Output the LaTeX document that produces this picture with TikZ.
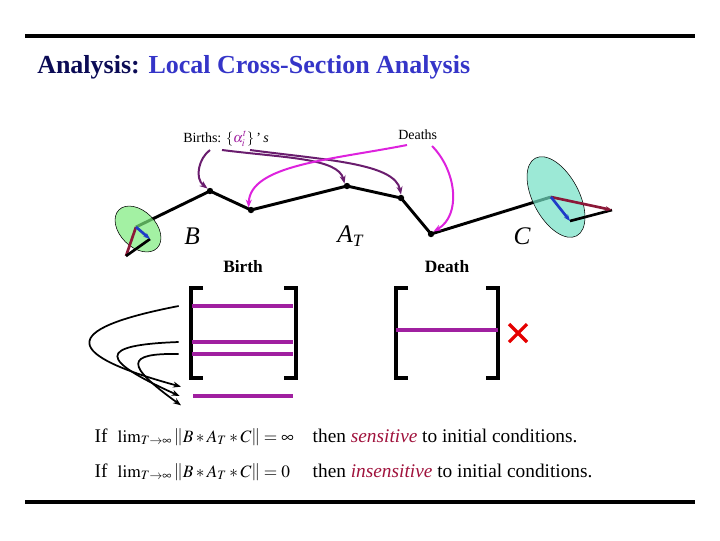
\documentclass[tikz,border=0pt]{standalone}
\usepackage{mathptmx}
\usepackage{fontspec}
\setmainfont{Liberation Serif}
\usepackage{xcolor}
\usepackage{tikz}
\usetikzlibrary{arrows.meta}
\definecolor{navy}{HTML}{0B0B55}
\definecolor{titleblue}{HTML}{3535C8}
\definecolor{birthpurple}{HTML}{6A1D6E}
\definecolor{deathpink}{HTML}{DD22DD}
\definecolor{rowpurple}{HTML}{A020A0}
\definecolor{maroon}{HTML}{8B1838}
\definecolor{vecblue}{HTML}{1E3CC8}
\definecolor{lightgreen}{HTML}{7CEB7C}
\definecolor{aqua}{HTML}{72E0C4}
\definecolor{sensred}{HTML}{A0123C}

\begin{document}
\begin{tikzpicture}[x=0.75pt, y=-0.75pt,
  bar/.style={line width=3pt},
  orbit/.style={line width=2.2pt},
  pt/.style={circle, fill=black, inner sep=1.7pt},
  birtharrow/.style={-{Stealth[length=6pt]}, line width=1.5pt, birthpurple},
  deatharrow/.style={-{Stealth[length=6pt]}, line width=1.5pt, deathpink},
  redvec/.style={line width=2pt, maroon},
  bluevec/.style={-{Stealth[length=5pt]}, line width=2pt, vecblue},
  bracket/.style={line width=2.4pt},
  row/.style={line width=2.4pt, rowpurple},
  swap/.style={-{Stealth[length=6pt]}, line width=1.3pt},
  label/.style={font=\fontsize{19}{19}\selectfont\itshape},
  head/.style={font=\fontsize{13}{13}\selectfont\bfseries},
  line/.style={anchor=base west, font=\fontsize{14.5}{15}\selectfont},
  formula/.style={anchor=base west, font=\fontsize{13}{14}\selectfont}
]
\useasboundingbox (0,0) rectangle (720,540);

% frame bars and title
\draw[bar] (25,36) -- (695,36);
\draw[bar] (25,502) -- (695,502);
\node[anchor=base west, inner sep=0pt, font=\fontsize{19.5}{20}\selectfont\bfseries] (title) at (37,73)
  {\textcolor{navy}{Analysis:} \textcolor{titleblue}{Local Cross-Section Analysis}};

% trajectory
\coordinate (b0) at (136,227);
\node[pt] (p1) at (210,191) {};
\node[pt] (p2) at (251,210) {};
\node[pt] (p3) at (347,186) {};
\node[pt] (p4) at (401,198) {};
\node[pt] (p5) at (431,234) {};
\coordinate (c0) at (551,197);
\draw[orbit] (b0) -- (p1.center) -- (p2.center) -- (p3.center) -- (p4.center) -- (p5.center) -- (c0);

% tangent ellipses
\draw[fill=lightgreen, fill opacity=0.7, shift={(138,229)}, rotate=-45] (0,0) ellipse [x radius=27, y radius=18];
\draw[fill=aqua, fill opacity=0.7, shift={(556,197)}, rotate=-62] (0,0) ellipse [x radius=44, y radius=23];

\coordinate (bred) at (126,256);
\coordinate (bblue) at (150,239);
\draw[redvec] (b0) -- (bred);
\draw[line width=2pt] (bred) -- (bblue);
\draw[bluevec] (b0) -- (bblue);
\coordinate (cred) at (612,210);
\coordinate (cblue) at (570,221);
\draw[line width=2pt] (cblue) -- (cred);
\draw[redvec, -{Stealth[length=5pt]}] (c0) -- (cred);
\draw[bluevec] (c0) -- (cblue);

\node[label] (B) at (192,236) {B};
\node[label] (AT) at (350,236) {A\raisebox{-0.35ex}{\fontsize{13}{13}\selectfont\itshape T}};
\node[label] (C) at (522,236) {C};

% births and deaths
\node[anchor=base west, inner sep=0pt, font=\fontsize{10.5}{11}\selectfont] (births) at (183,142)
  {Births: $\{\textcolor{rowpurple}{\alpha_i^t}\}$\,'\,\textit{s}};
\node[anchor=base west, inner sep=0pt, font=\fontsize{10.5}{11}\selectfont] (deaths) at (398,139) {Deaths};
\draw[birtharrow] (210,150) .. controls (199,158) and (194,178) .. (p1.north west);
\draw[birtharrow] (222,150) .. controls (285,158) and (338,158) .. (p3.north west);
\draw[birtharrow] (250,150) .. controls (325,160) and (395,163) .. (p4.north);
\draw[deatharrow] (407,145) .. controls (330,160) and (250,165) .. (p2.north west);
\draw[deatharrow] (432,146) .. controls (456,170) and (462,215) .. (p5.north east);

\node[head] (birth) at (243,267) {Birth};
\node[head] (death) at (447,267) {Death};

% birth matrix
\draw[bracket] (203,288) -- (191,288) -- (191,378) -- (203,378);
\draw[bracket] (284,288) -- (296,288) -- (296,378) -- (284,378);
\coordinate (r1) at (192,306);
\coordinate (r2) at (192,342);
\coordinate (r3) at (192,354);
\coordinate (r4) at (193,396);
\draw[row] (r1) -- (293,306);
\draw[row] (r2) -- (293,342);
\draw[row] (r3) -- (293,354);
\draw[row] (r4) -- (293,396);
\draw[swap] ([xshift=-10]r1) .. controls (55,330) and (65,355) .. ([xshift=-9,yshift=7]r4);
\draw[swap] ([xshift=-10]r2) .. controls (95,345) and (100,360) .. ([xshift=-10]r4);
\draw[swap] ([xshift=-10]r3) .. controls (125,353) and (125,365) .. ([xshift=-9,yshift=-7]r4);

% death matrix
\draw[bracket] (408,288) -- (396,288) -- (396,378) -- (408,378);
\draw[bracket] (486,288) -- (498,288) -- (498,378) -- (486,378);
\draw[row] (396,330) -- (498,330);
\coordinate (x) at (518,333);
\draw[line width=2.4pt, red!90!black] ([shift={(-9,-9)}]x) -- ([shift={(9,9)}]x) ([shift={(-9,9)}]x) -- ([shift={(9,-9)}]x);

% conditions
\node[line] (if1) at (90,442) {If};
\node[formula] (lim1) at (113,442) {$\lim_{T\to\infty}\left\|B*A_T*C\right\|=\infty$};
\node[line] (then1) at (308,442) {then \textcolor{sensred}{\textit{sensitive}} to initial conditions.};
\node[line] (if2) at (90,477) {If};
\node[formula] (lim2) at (113,477) {$\lim_{T\to\infty}\left\|B*A_T*C\right\|=0$};
\node[line] (then2) at (308,477) {then \textcolor{sensred}{\textit{insensitive}} to initial conditions.};
\end{tikzpicture}
\end{document}
